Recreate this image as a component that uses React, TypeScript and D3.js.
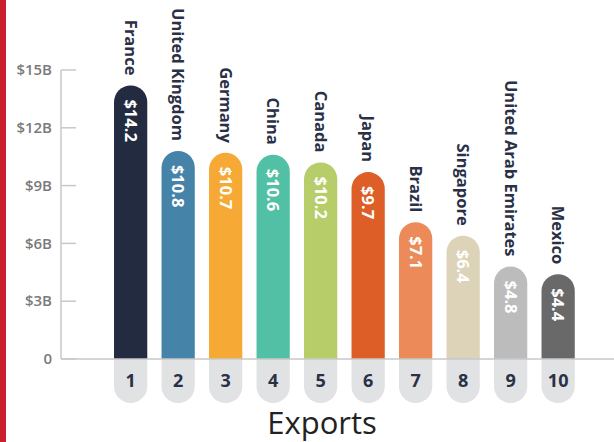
import * as d3 from 'd3';

const countries = [
  'France', 'United Kingdom', 'Germany', 'China', 'Canada',
  'Japan', 'Brazil', 'Singapore', 'United Arab Emirates', 'Mexico',
];
const exportsBn = [14.2, 10.8, 10.7, 10.6, 10.2, 9.7, 7.1, 6.4, 4.8, 4.4];
const ranks = ['1', '2', '3', '4', '5', '6', '7', '8', '9', '10'];
const barColors = [
  '#232b40', '#4584a8', '#f7a935', '#52c0a4', '#b6cd6a',
  '#dd5e26', '#ec8a5a', '#ddd3b9', '#bcbcbc', '#696969',
];
const yTicks = [0, 3, 6, 9, 12, 15];

const W = 614;
const H = 442;
const FONT = '"Open Sans", sans-serif';

export default function App() {
  const axisX = 61;
  const y0 = 359;

  const x = d3
    .scaleBand<string>()
    .domain(ranks)
    .range([97.4, 591.4])
    .paddingInner(0.3)
    .paddingOuter(0.35);
  const y = d3.scaleLinear().domain([0, 15]).range([y0, 70]);

  const bw = x.bandwidth();
  const r = bw / 2;
  const pillBottom = 403;

  const barPath = (x0: number, top: number) =>
    `M${x0},${y0}V${top + r}A${r},${r} 0 0 1 ${x0 + bw},${top + r}V${y0}Z`;
  const pillPath = (x0: number) =>
    `M${x0},${y0}V${pillBottom - r}A${r},${r} 0 0 0 ${x0 + bw},${pillBottom - r}V${y0}Z`;

  return (
    <svg
      width={W}
      height={H}
      style={{ position: 'absolute', left: 0, top: 0, background: '#fff' }}
      fontFamily={FONT}
    >
      <rect x={0} y={0} width={6} height={H} fill="#c8202e" />

      {/* y axis */}
      <line x1={axisX} x2={axisX} y1={y(15)} y2={y0} stroke="#c8c8c8" strokeWidth={1.5} />
      {yTicks.map(t => (
        <g key={t}>
          <line x1={axisX} x2={axisX + 15} y1={y(t)} y2={y(t)} stroke="#c8c8c8" strokeWidth={1.5} />
          <text
            x={52}
            y={y(t)}
            dy="0.35em"
            textAnchor="end"
            fontSize={15}
            fontWeight={600}
            fill="#7a7a7a"
          >
            {t === 0 ? '0' : `$${t}B`}
          </text>
        </g>
      ))}

      {/* bars */}
      {ranks.map((k, i) => {
        const x0 = x(k) ?? 0;
        const cx = x0 + bw / 2;
        const top = y(exportsBn[i]);
        return (
          <g key={k}>
            <path d={pillPath(x0)} fill="#e1e2e3" />
            <path d={barPath(x0, top)} fill={barColors[i]} />
            <text
              x={cx}
              y={381}
              dy="0.35em"
              textAnchor="middle"
              fontSize={18}
              fontWeight={700}
              fill="#2a3147"
            >
              {k}
            </text>
            <text
              transform={`translate(${cx},${top + 14}) rotate(90)`}
              dy="0.35em"
              textAnchor="start"
              fontSize={16.5}
              fontWeight={700}
              fill="#fff"
            >
              {`$${exportsBn[i]}`}
            </text>
            <text
              transform={`translate(${cx},${top - 10}) rotate(90)`}
              dy="0.35em"
              textAnchor="end"
              fontSize={16.5}
              fontWeight={700}
              fill="#2a3147"
            >
              {countries[i]}
            </text>
          </g>
        );
      })}

      {/* baseline */}
      <line x1={axisX} x2={W} y1={y0} y2={y0} stroke="#c8c8c8" strokeWidth={1.5} />

      <text x={322} y={434} textAnchor="middle" fontSize={31} fill="#222">
        Exports
      </text>
    </svg>
  );
}
